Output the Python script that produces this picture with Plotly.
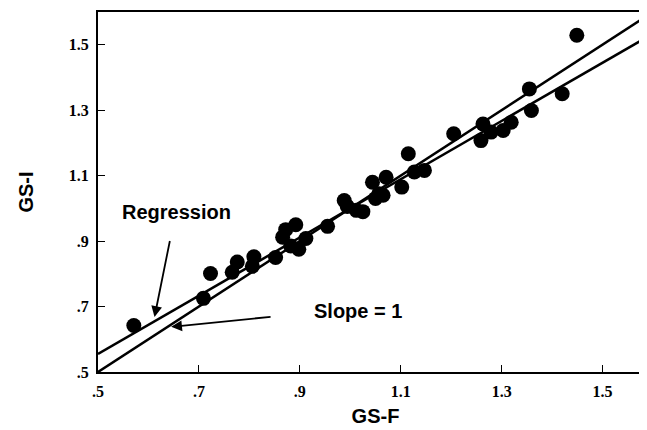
import plotly.graph_objects as go

gs_f = [0.571, 0.709, 0.723, 0.766, 0.776, 0.806, 0.809, 0.852, 0.866, 0.872,
        0.892, 0.882, 0.898, 0.912, 0.955, 0.988, 0.994, 1.012, 1.025, 1.044,
        1.057, 1.050, 1.071, 1.065, 1.102, 1.115, 1.127, 1.147, 1.205, 1.263,
        1.259, 1.279, 1.303, 1.319, 1.359, 1.355, 1.420, 1.449]
gs_i = [0.642, 0.725, 0.801, 0.805, 0.836, 0.823, 0.852, 0.850, 0.912, 0.935,
        0.950, 0.885, 0.875, 0.908, 0.945, 1.024, 1.006, 0.994, 0.990, 1.080,
        1.045, 1.030, 1.095, 1.040, 1.065, 1.167, 1.111, 1.116, 1.228, 1.258,
        1.207, 1.233, 1.238, 1.263, 1.299, 1.365, 1.350, 1.529]

x_range = [0.5, 1.6]
y_range = [0.5, 1.6]
tick_vals = [0.5, 0.7, 0.9, 1.1, 1.3, 1.5]
tick_text = [".5", ".7", ".9", "1.1", "1.3", "1.5"]

reg_intercept = 0.11
reg_slope = 0.89

line_x = [x_range[0], x_range[1]]
reg_y = [reg_intercept + reg_slope * v for v in line_x]
unity_y = list(line_x)

fig = go.Figure()
fig.add_trace(go.Scatter(x=line_x, y=unity_y, mode="lines",
                         line=dict(color="black", width=2.5), showlegend=False))
fig.add_trace(go.Scatter(x=line_x, y=reg_y, mode="lines",
                         line=dict(color="black", width=2.5), showlegend=False))
fig.add_trace(go.Scatter(x=gs_f, y=gs_i, mode="markers",
                         marker=dict(color="black", size=15), showlegend=False))

ann_font = dict(family="Liberation Sans", size=20, color="black")
fig.add_annotation(x=0.612, y=0.668, ax=0.643, ay=0.905, xref="x", yref="y",
                   axref="x", ayref="y", showarrow=True, arrowhead=2,
                   arrowsize=1.2, arrowwidth=1.8, arrowcolor="black", text="")
fig.add_annotation(x=0.645, y=0.638, ax=0.845, ay=0.669, xref="x", yref="y",
                   axref="x", ayref="y", showarrow=True, arrowhead=2,
                   arrowsize=1.2, arrowwidth=1.8, arrowcolor="black", text="")
fig.add_annotation(x=0.655, y=0.99, xref="x", yref="y", showarrow=False,
                   text="<b>Regression</b>", font=ann_font)
fig.add_annotation(x=1.015, y=0.686, xref="x", yref="y", showarrow=False,
                   text="<b>Slope = 1</b>", font=ann_font)

tick_font = dict(family="Liberation Serif", size=16, color="black")
bold_ticks = ["<b>" + t + "</b>" for t in tick_text]
fig.update_xaxes(range=x_range, tickvals=tick_vals, ticktext=bold_ticks,
                 ticks="inside", ticklen=7, tickwidth=1, tickcolor="black",
                 showline=True, linecolor="black", linewidth=2, mirror=True,
                 showgrid=False, zeroline=False, tickfont=tick_font,
                 ticklabelstandoff=4,
                 title=dict(text="<b>GS-F</b>", font=dict(family="Liberation Sans", size=20, color="black"), standoff=10))
fig.update_yaxes(range=y_range, tickvals=tick_vals, ticktext=bold_ticks,
                 ticks="inside", ticklen=7, tickwidth=1, tickcolor="black",
                 showline=True, linecolor="black", linewidth=2, mirror=False,
                 showgrid=False, zeroline=False, tickfont=tick_font,
                 ticklabelstandoff=4,
                 title=dict(text="<b>GS-I</b>", font=dict(family="Liberation Sans", size=20, color="black"), standoff=30))
fig.update_layout(width=645, height=430, plot_bgcolor="white", paper_bgcolor="white",
                  margin=dict(l=90, r=0, t=4, b=66))
fig.write_html("out.html")
